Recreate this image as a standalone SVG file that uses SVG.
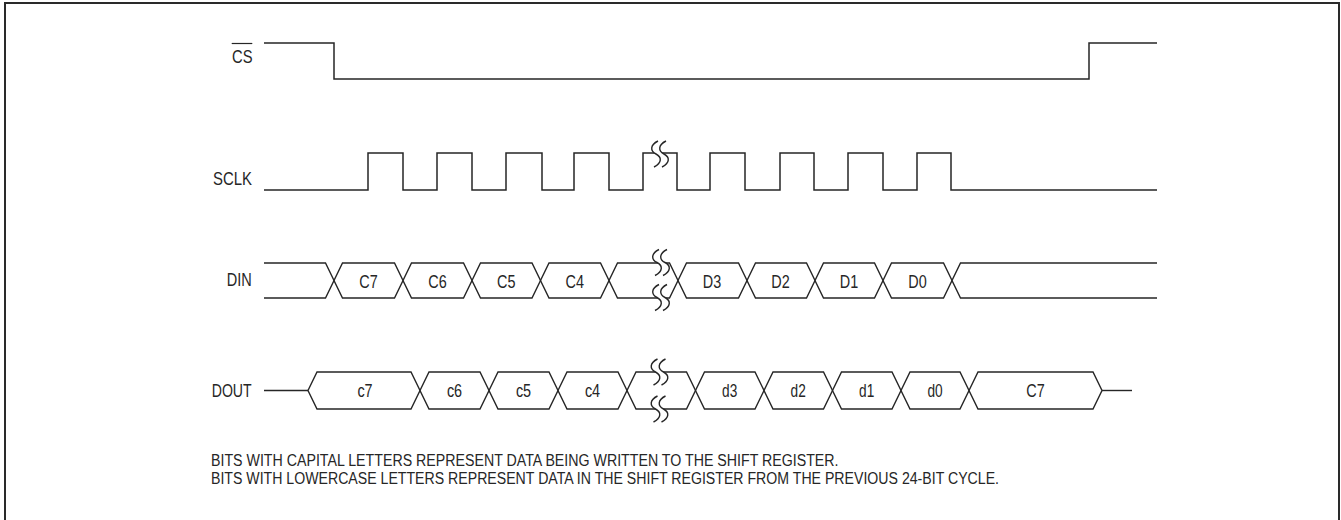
<svg xmlns="http://www.w3.org/2000/svg" width="1341" height="520" viewBox="0 0 1341 520">
<style>
.w{fill:none;stroke:#262626;stroke-width:1.5;stroke-linejoin:miter}
.bx{fill:none;stroke:#262626;stroke-width:1.4;stroke-linejoin:miter}
.t{font-family:"Liberation Sans",Arial,sans-serif;font-size:18px;fill:#262626}
.f{font-family:"Liberation Sans",Arial,sans-serif;font-size:16px;fill:#262626}
.m{text-anchor:middle}
.brkfill{fill:#fff;stroke:none}
.brk{fill:none;stroke:#262626;stroke-width:1.4}
</style>
<defs>
<g id="brk">
<path class="brkfill" d="M-2,-13 C-10,-9 -10,-3 -4,0 C2,3 2,9 -6,13 L2,13 C10,9 10,3 4,0 C-2,-3 -2,-9 6,-13 Z"/>
<path class="brk" d="M-2,-13 C-10,-9 -10,-3 -4,0 C2,3 2,9 -6,13"/>
<path class="brk" d="M6,-13 C-2,-9 -2,-3 4,0 C10,3 10,9 2,13"/>
</g>
</defs>
<rect x="5" y="3" width="1334" height="530" fill="#fff" stroke="#2a2a2a" stroke-width="2"/>

<g id="cs">
<text class="t" x="232" y="63.3" textLength="20.5" lengthAdjust="spacingAndGlyphs">CS</text>
<line x1="231.7" y1="43.5" x2="252.3" y2="43.5" stroke="#262626" stroke-width="1.2"/>
<path class="w" d="M264,43 H334 V79 H1089 V43 H1157"/>
</g>

<g id="sclk">
<text class="t" x="213" y="185" textLength="39" lengthAdjust="spacingAndGlyphs">SCLK</text>
<path class="w" d="M264,190 H368 V153 H403 V190 H437 V153 H472 V190 H506 V153 H542 V190 H574 V153 H609 V190 H643 V153 H677 V190 H710 V153 H745 V190 H780 V153 H814 V190 H848 V153 H883 V190 H917 V153 H951 V190 H1157"/>
<use href="#brk" x="660" y="154"/>
</g>

<g id="din">
<text class="t" x="226.7" y="286" textLength="25" lengthAdjust="spacingAndGlyphs">DIN</text>
<path class="bx" d="M264,263 H325.5 L334,280.5 L325.5,298 H264"/>
<path class="bx" d="M334,280.5 L342.5,263 L394.5,263 L403,280.5 L394.5,298 L342.5,298 Z"/>
<path class="bx" d="M403,280.5 L411.5,263 L463.5,263 L472,280.5 L463.5,298 L411.5,298 Z"/>
<path class="bx" d="M472,280.5 L480.5,263 L532,263 L540.5,280.5 L532,298 L480.5,298 Z"/>
<path class="bx" d="M540.5,280.5 L549,263 L600.5,263 L609,280.5 L600.5,298 L549,298 Z"/>
<path class="bx" d="M609,280.5 L617.5,263 L669.5,263 L678,280.5 L669.5,298 L617.5,298 Z"/>
<path class="bx" d="M678,280.5 L686.5,263 L738.5,263 L747,280.5 L738.5,298 L686.5,298 Z"/>
<path class="bx" d="M747,280.5 L755.5,263 L806.5,263 L815,280.5 L806.5,298 L755.5,298 Z"/>
<path class="bx" d="M815,280.5 L823.5,263 L874.5,263 L883,280.5 L874.5,298 L823.5,298 Z"/>
<path class="bx" d="M883,280.5 L891.5,263 L943.5,263 L952,280.5 L943.5,298 L891.5,298 Z"/>
<path class="bx" d="M1157,263 H960.5 L952,280.5 L960.5,298 H1157"/>
<use href="#brk" x="661" y="262.5"/>
<use href="#brk" x="661" y="297.5"/>
<text class="t m" x="368.5" y="288" textLength="18.4" lengthAdjust="spacingAndGlyphs">C7</text>
<text class="t m" x="437.5" y="288" textLength="18.4" lengthAdjust="spacingAndGlyphs">C6</text>
<text class="t m" x="506.3" y="288" textLength="18.4" lengthAdjust="spacingAndGlyphs">C5</text>
<text class="t m" x="574.8" y="288" textLength="18.4" lengthAdjust="spacingAndGlyphs">C4</text>
<text class="t m" x="712" y="288" textLength="18.4" lengthAdjust="spacingAndGlyphs">D3</text>
<text class="t m" x="780.5" y="288" textLength="18.4" lengthAdjust="spacingAndGlyphs">D2</text>
<text class="t m" x="849" y="288" textLength="18.4" lengthAdjust="spacingAndGlyphs">D1</text>
<text class="t m" x="917.5" y="288" textLength="18.4" lengthAdjust="spacingAndGlyphs">D0</text>
</g>

<g id="dout">
<text class="t" x="211.7" y="396.7" textLength="40" lengthAdjust="spacingAndGlyphs">DOUT</text>
<path class="bx" d="M264,390.5 H308"/>
<path class="bx" d="M308,390.5 L317,372 L411,372 L420,390.5 L411,409 L317,409 Z"/>
<path class="bx" d="M420,390.5 L429,372 L480,372 L489,390.5 L480,409 L429,409 Z"/>
<path class="bx" d="M489,390.5 L498,372 L549,372 L558,390.5 L549,409 L498,409 Z"/>
<path class="bx" d="M558,390.5 L567,372 L618,372 L627,390.5 L618,409 L567,409 Z"/>
<path class="bx" d="M627,390.5 L636,372 L686.5,372 L695.5,390.5 L686.5,409 L636,409 Z"/>
<path class="bx" d="M695.5,390.5 L704.5,372 L755,372 L764,390.5 L755,409 L704.5,409 Z"/>
<path class="bx" d="M764,390.5 L773,372 L823.5,372 L832.5,390.5 L823.5,409 L773,409 Z"/>
<path class="bx" d="M832.5,390.5 L841.5,372 L892,372 L901,390.5 L892,409 L841.5,409 Z"/>
<path class="bx" d="M901,390.5 L910,372 L960,372 L969,390.5 L960,409 L910,409 Z"/>
<path class="bx" d="M969,390.5 L978,372 L1093,372 L1102,390.5 L1093,409 L978,409 Z"/>
<path class="bx" d="M1102,390.5 H1132"/>
<use href="#brk" x="659.5" y="372"/>
<use href="#brk" x="659.5" y="409"/>
<text class="t m" x="365" y="397" textLength="15.2" lengthAdjust="spacingAndGlyphs">c7</text>
<text class="t m" x="454.5" y="397" textLength="15.2" lengthAdjust="spacingAndGlyphs">c6</text>
<text class="t m" x="523.5" y="397" textLength="15.2" lengthAdjust="spacingAndGlyphs">c5</text>
<text class="t m" x="592.5" y="397" textLength="15.2" lengthAdjust="spacingAndGlyphs">c4</text>
<text class="t m" x="729.7" y="397" textLength="15.2" lengthAdjust="spacingAndGlyphs">d3</text>
<text class="t m" x="798.2" y="397" textLength="15.2" lengthAdjust="spacingAndGlyphs">d2</text>
<text class="t m" x="866.7" y="397" textLength="15.2" lengthAdjust="spacingAndGlyphs">d1</text>
<text class="t m" x="935" y="397" textLength="15.2" lengthAdjust="spacingAndGlyphs">d0</text>
<text class="t m" x="1035.5" y="397" textLength="18.4" lengthAdjust="spacingAndGlyphs">C7</text>
</g>

<g id="note">
<text class="f" x="211" y="465.7" textLength="627.5" lengthAdjust="spacingAndGlyphs">BITS WITH CAPITAL LETTERS REPRESENT DATA BEING WRITTEN TO THE SHIFT REGISTER.</text>
<text class="f" x="211" y="484.3" textLength="788" lengthAdjust="spacingAndGlyphs">BITS WITH LOWERCASE LETTERS REPRESENT DATA IN THE SHIFT REGISTER FROM THE PREVIOUS 24-BIT CYCLE.</text>
</g>
</svg>
